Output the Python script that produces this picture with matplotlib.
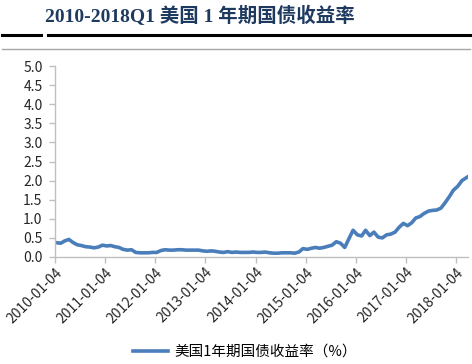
import matplotlib
matplotlib.use("Agg")
import matplotlib.pyplot as plt
from matplotlib.lines import Line2D
import pandas as pd

plt.rcParams['font.family'] = ['Noto Sans CJK SC', 'DejaVu Sans']

# 美国1年期国债收益率 (%), 月度读数 2010-01 ~ 2018-03
y2010 = [0.38, 0.36, 0.42, 0.46, 0.38, 0.32, 0.30, 0.27, 0.26, 0.24, 0.26, 0.31]
y2011 = [0.29, 0.30, 0.27, 0.25, 0.20, 0.18, 0.19, 0.12, 0.11, 0.11, 0.11, 0.12]
y2012 = [0.12, 0.17, 0.19, 0.18, 0.18, 0.19, 0.19, 0.18, 0.18, 0.18, 0.18, 0.16]
y2013 = [0.15, 0.16, 0.15, 0.13, 0.12, 0.14, 0.12, 0.13, 0.12, 0.12, 0.12, 0.13]
y2014 = [0.12, 0.12, 0.13, 0.11, 0.10, 0.10, 0.11, 0.11, 0.11, 0.10, 0.13, 0.22]
y2015 = [0.20, 0.23, 0.25, 0.23, 0.25, 0.28, 0.31, 0.40, 0.36, 0.25, 0.48, 0.70]
y2016 = [0.58, 0.55, 0.70, 0.56, 0.65, 0.52, 0.50, 0.58, 0.60, 0.65, 0.78, 0.88]
y2017 = [0.82, 0.90, 1.02, 1.06, 1.14, 1.20, 1.22, 1.23, 1.28, 1.42, 1.58, 1.75]
y2018 = [1.85, 2.00, 2.10]
rates = y2010 + y2011 + y2012 + y2013 + y2014 + y2015 + y2016 + y2017 + y2018

dates = list(pd.date_range('2010-01-01', '2018-03-01', freq='MS') + pd.Timedelta(days=14))
dates[0] = pd.Timestamp('2010-01-04')
dates[-1] = pd.Timestamp('2018-03-29')

tick_labels = ['%d-01-04' % y for y in range(2010, 2019)]
yticks = [0.0, 0.5, 1.0, 1.5, 2.0, 2.5, 3.0, 3.5, 4.0, 4.5, 5.0]

blue = '#4A7EBB'
grey = '#BFBFBF'

fig = plt.figure(figsize=(4.72, 3.64), dpi=100)
ax = fig.add_axes([55/472, 1-257/364, 413/472, 191/364])

ax.plot(dates, rates, color=blue, lw=2.6, label='美国1年期国债收益率（%）')

ax.set_ylim(0, 5)
ax.set_yticks(yticks)
ax.set_yticklabels(['%.1f' % v for v in yticks])
ax.set_xlim(pd.Timestamp('2010-01-04'), pd.Timestamp('2018-03-31'))
ax.set_xticks([pd.Timestamp(t) for t in tick_labels])
ax.set_xticklabels(tick_labels, rotation=45, ha='right', rotation_mode='anchor')

for s in ['top', 'right']:
    ax.spines[s].set_visible(False)
for s in ['left', 'bottom']:
    ax.spines[s].set_color(grey)
    ax.spines[s].set_linewidth(1)
ax.tick_params(axis='both', color=grey, length=4, width=1, labelsize=10,
               labelcolor='#262626', direction='out')
ax.tick_params(axis='y', pad=5)
ax.tick_params(axis='x', pad=2)

# 标题
fig.text(45/472, 1-16/364, '2010-2018Q1 美国 1 年期国债收益率', fontsize=14,
         fontweight='bold', color='#1F3A5F', va='center', ha='left',
         family=['Liberation Serif', 'Noto Sans CJK SC'])
# 标题下方的分隔线
fig.add_artist(Line2D([2/472, 41/472], [1-34.5/364, 1-34.5/364], color='black', lw=2.2))
fig.add_artist(Line2D([48/472, 470/472], [1-34.5/364, 1-34.5/364], color='black', lw=2.2))
fig.add_artist(Line2D([2/472, 470/472], [1-48.5/364, 1-48.5/364], color='#A6A6A6', lw=1))

fig.legend(loc='center', bbox_to_anchor=(245/472, 1-352/364), frameon=False,
           fontsize=10.5, handlelength=2.4, handletextpad=0.4)

fig.savefig('out.png', dpi=100)
